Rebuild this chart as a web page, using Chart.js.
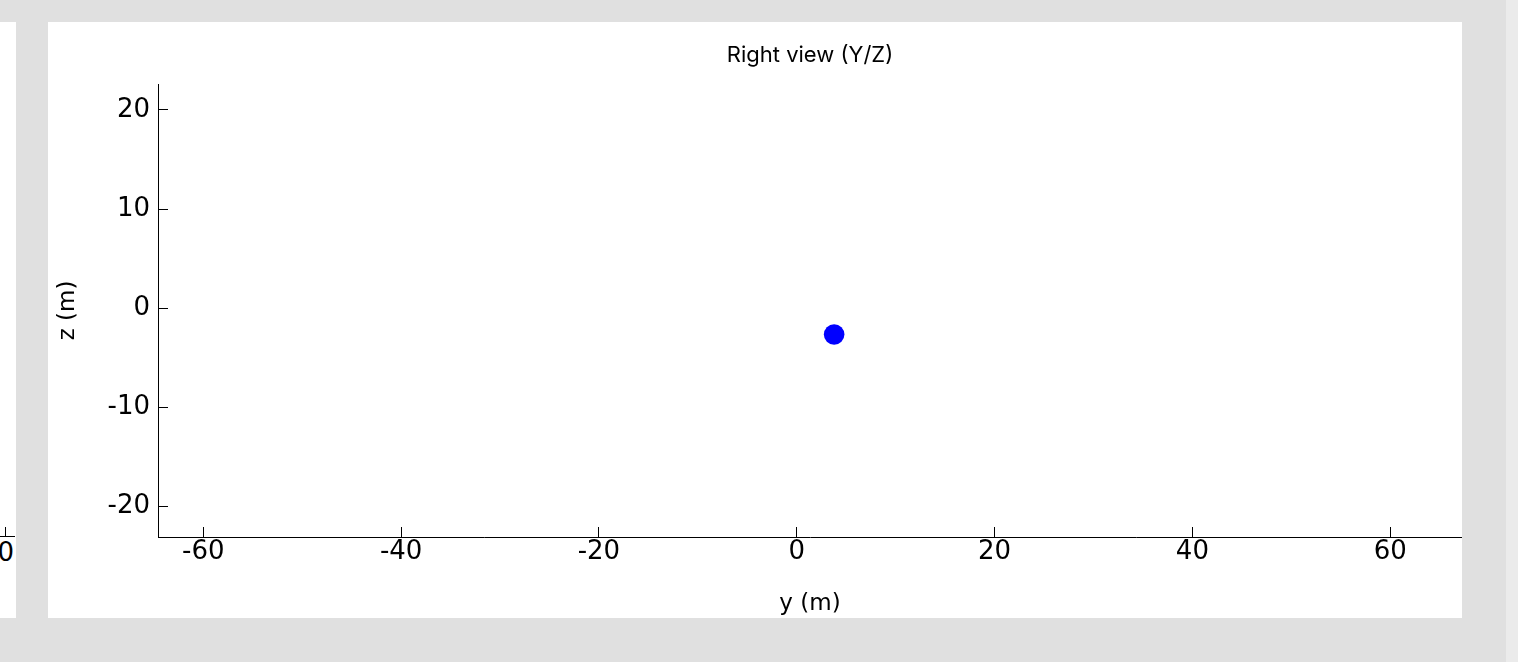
<!DOCTYPE html>
<html>
<head>
<meta charset="utf-8">
<script src="https://cdn.jsdelivr.net/npm/chart.js@4.4.0/dist/chart.umd.min.js"></script>
<style>
  html, body { margin: 0; padding: 0; }
  body { width: 1518px; height: 662px; background: #e0e0e0; position: relative; overflow: hidden; }
  #strip { position: absolute; left: 1506px; top: 0; width: 12px; height: 662px; background: #ebebeb; }
  #leftPanel { position: absolute; left: 0; top: 22px; width: 16px; height: 596px; background: #fff; overflow: hidden; }
  #leftAxis { position: absolute; left: 0; top: 514px; width: 15px; height: 1px; background: #000; }
  #leftTick { position: absolute; left: 5px; top: 505px; width: 1px; height: 10px; background: #000; }
  #leftLabel { position: absolute; right: 2px; top: 515px; font: 26px "DejaVu Sans"; color: #000; line-height: 31px; white-space: nowrap; }
  #panel { position: absolute; left: 48px; top: 22px; width: 1414px; height: 596px; background: #fff; }
  #c { position: absolute; left: 0; top: 0; }
</style>
</head>
<body>
<div id="strip"></div>
<div id="leftPanel"><div id="leftAxis"></div><div id="leftTick"></div><div id="leftLabel">60</div></div>
<div id="panel"><canvas id="c" width="1414" height="596"></canvas></div>
<script>
// Data
const yPositions = [3.78];
const zPositions = [-2.66];
const xTickValues = [-60, -40, -20, 0, 20, 40, 60];
const yTickValues = [-20, -10, 0, 10, 20];
const xRange = [-64.58, 67.26];
const yRange = [-23.1, 22.62];
const chartTitle = 'Right view (Y/Z)';
const xTitle = 'y (m)';
const yTitle = 'z (m)';

const points = yPositions.map((v, i) => ({ x: v, y: zPositions[i] }));

const tickFont = { family: '"DejaVu Sans"', size: 26 };
const titleFont = { family: '"DejaVu Sans"', size: 23 };

function noPad(s) {
  s.paddingLeft = 0; s.paddingRight = 0; s.paddingTop = 0; s.paddingBottom = 0;
}

new Chart(document.getElementById('c'), {
  type: 'scatter',
  data: {
    datasets: [{
      data: points,
      backgroundColor: '#0000ff',
      borderWidth: 0,
      pointRadius: 10.3,
      pointHoverRadius: 10.3
    }]
  },
  options: {
    responsive: false,
    animation: false,
    devicePixelRatio: 1,
    layout: { padding: 0, autoPadding: false },
    plugins: {
      legend: { display: false },
      tooltip: { enabled: false },
      title: {
        display: true,
        text: chartTitle,
        fullSize: false,
        color: '#000',
        font: { family: 'Inter', size: 22, weight: 'normal', lineHeight: 1.2 },
        padding: { top: 20.3, bottom: 15.3 }
      }
    },
    scales: {
      x: {
        type: 'linear',
        position: 'bottom',
        min: xRange[0],
        max: xRange[1],
        afterBuildTicks: s => { s.ticks = xTickValues.map(v => ({ value: v })); },
        afterFit: s => { s.height = 81; noPad(s); },
        ticks: {
          includeBounds: false,
          autoSkip: false,
          maxRotation: 0,
          color: '#000',
          font: tickFont,
          padding: 9.5,
          callback: v => String(v)
        },
        grid: { display: true, drawOnChartArea: false, drawTicks: true, tickLength: -10, color: '#000', lineWidth: 1 },
        border: { display: true, color: '#000', width: 1 },
        title: { display: true, text: xTitle, color: '#000', font: titleFont, padding: { top: 0, bottom: 0 } }
      },
      y: {
        type: 'linear',
        position: 'left',
        min: yRange[0],
        max: yRange[1],
        afterBuildTicks: s => { s.ticks = yTickValues.map(v => ({ value: v })); },
        afterFit: s => { s.width = 110; noPad(s); },
        ticks: {
          includeBounds: false,
          autoSkip: false,
          color: '#000',
          font: tickFont,
          padding: 18,
          callback: v => String(v)
        },
        grid: { display: true, drawOnChartArea: false, drawTicks: true, tickLength: -10, color: '#000', lineWidth: 1 },
        border: { display: true, color: '#000', width: 1 },
        title: { display: true, text: yTitle, color: '#000', font: titleFont, padding: { top: 6, bottom: 0 } }
      }
    }
  }
});
</script>
</body>
</html>
